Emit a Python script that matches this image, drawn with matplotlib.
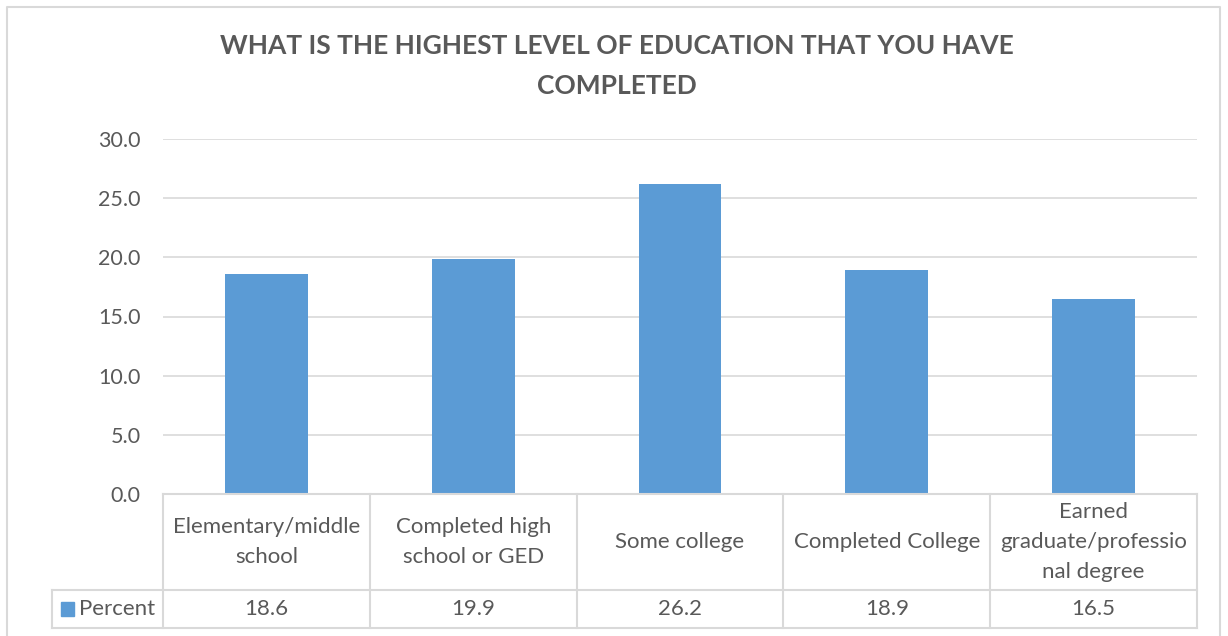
import matplotlib.pyplot as plt
from matplotlib.lines import Line2D
from matplotlib.patches import Rectangle

categories = ['Elementary/middle\nschool', 'Completed high\nschool or GED', 'Some college',
              'Completed College', 'Earned\ngraduate/professio\nnal degree']
percent = [18.6, 19.9, 26.2, 18.9, 16.5]
series_name = 'Percent'
yticks = [0, 5, 10, 15, 20, 25, 30]

W, H = 1228, 636
bar_color = '#5b9bd5'
text_color = '#595959'
line_color = '#d9d9d9'

plt.rcParams['font.family'] = ['Lato', 'DejaVu Sans']

fig = plt.figure(figsize=(W / 100, H / 100), dpi=100)

def fx(px):
    return px / W

def fy(py):
    return 1 - py / H

# chart border (bottom edge cut off in reference)
fig.add_artist(Line2D([fx(7), fx(7), fx(1220), fx(1220)], [0, fy(7), fy(7), 0],
                      color=line_color, lw=1.5, transform=fig.transFigure))

# main plot area
left, right, top, bottom = 163, 1197, 139, 494
ax = fig.add_axes([fx(left), fy(bottom), fx(right - left), (bottom - top) / H])
x = range(len(percent))
ax.bar(x, percent, width=0.4, color=bar_color, zorder=3)
ax.set_xlim(-0.5, len(percent) - 0.5)
ax.set_ylim(0, 30)
ax.set_yticks(yticks)
ax.set_yticklabels([f'{v:.1f}' for v in yticks], fontsize=15.5, color=text_color)
ax.tick_params(axis='y', length=0, pad=16)
ax.set_xticks([])
ax.grid(axis='y', color=line_color, lw=1.2, zorder=0)
for s in ax.spines.values():
    s.set_visible(False)

# data table under the plot
tb_bottom = 628
tax = fig.add_axes([fx(left), fy(tb_bottom), fx(right - left), (tb_bottom - bottom) / H])
tax.set_xlim(-0.5, len(percent) - 0.5)
tax.set_ylim(tb_bottom - bottom, 0)
tax.axis('off')
row_split = 590 - bottom
leg_left = -0.5 - (left - 52) / ((right - left) / len(percent))
lkw = dict(color=line_color, lw=1.5, clip_on=False)
tax.plot([-0.5, 4.5], [0, 0], **lkw)
tax.plot([leg_left, 4.5], [row_split, row_split], **lkw)
tax.plot([leg_left, 4.5], [tb_bottom - bottom, tb_bottom - bottom], **lkw)
tax.plot([leg_left, leg_left], [row_split, tb_bottom - bottom], **lkw)
for i in range(len(percent) + 1):
    tax.plot([i - 0.5, i - 0.5], [0, tb_bottom - bottom], **lkw)
for i, (cat, val) in enumerate(zip(categories, percent)):
    tax.text(i, row_split / 2, cat, ha='center', va='center', fontsize=16,
             color=text_color, linespacing=1.65)
    tax.text(i, (row_split + tb_bottom - bottom) / 2, f'{val:.1f}', ha='center',
             va='center', fontsize=16, color=text_color)
tax.add_patch(Rectangle((leg_left + 0.045, row_split + 12), 0.06, 14,
                        color=bar_color, clip_on=False))
tax.text(leg_left + 0.13, (row_split + tb_bottom - bottom) / 2, series_name,
         ha='left', va='center', fontsize=16, color=text_color)

fig.text(0.5025, fy(66), 'WHAT IS THE HIGHEST LEVEL OF EDUCATION THAT YOU HAVE\nCOMPLETED',
         ha='center', va='center', fontsize=19, fontweight='bold', color=text_color,
         linespacing=1.75)

fig.savefig('out.png', dpi=100)
